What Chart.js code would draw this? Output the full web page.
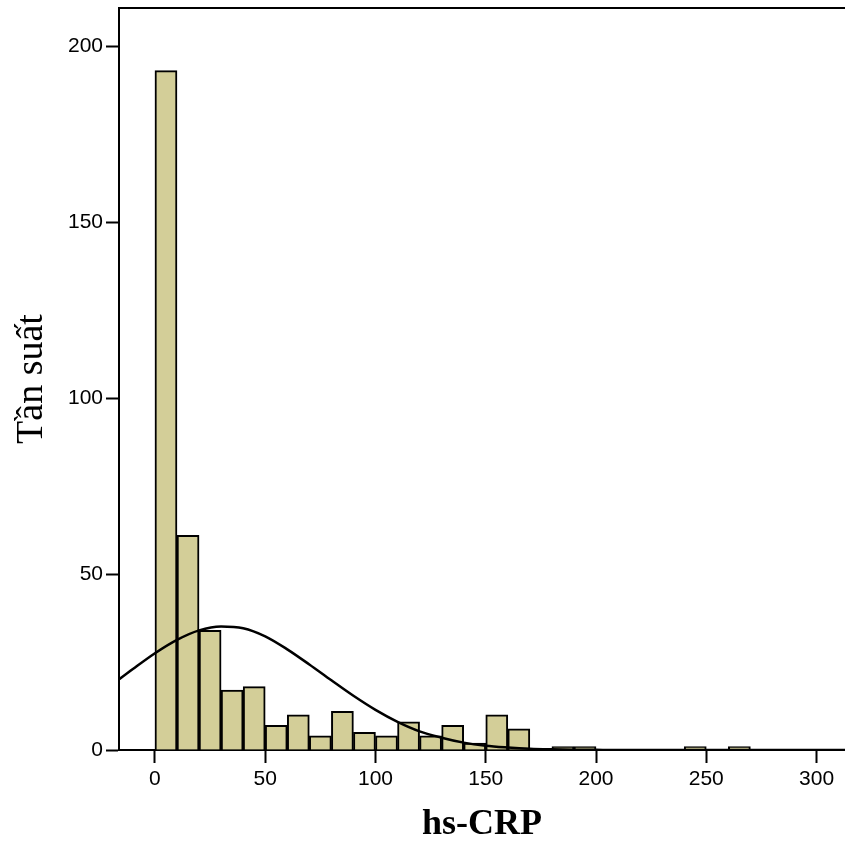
<!DOCTYPE html>
<html>
<head>
<meta charset="utf-8">
<script src="https://cdn.jsdelivr.net/npm/chart.js@4/dist/chart.umd.min.js"></script>
<style>
  body { margin: 0; background: #fff; }
  canvas { display: block; }
</style>
</head>
<body>
<canvas id="chart" width="845" height="843"></canvas>
<script>
// histogram bins (lower edge, width 10) and their counts
const binStarts = [0, 10, 20, 30, 40, 50, 60, 70, 80, 90, 100, 110, 120, 130,
  140, 150, 160, 170, 180, 190, 200, 210, 220, 230, 240, 250, 260];
const counts = [193, 61, 34, 17, 18, 7, 10, 4, 11, 5, 4, 8, 4, 7,
  2, 10, 6, 0, 1, 1, 0, 0, 0, 0, 1, 0, 1];

// normal curve
const curveX = [-20, -10, 0, 10, 20, 30, 40, 50, 60, 70, 80, 90, 100, 110,
  120, 130, 140, 150, 160, 170, 180, 190, 200, 220, 260, 320];
const curveY = [18.3, 23.0, 27.5, 31.3, 34.0, 35.1, 34.6, 32.3, 28.6, 24.3, 19.8,
  15.4, 11.4, 8.0, 5.3, 3.5, 2.1, 1.2, 0.7, 0.35, 0.18, 0.08, 0.04, 0, 0, 0];

const xTicks = [0, 50, 100, 150, 200, 250, 300];
const yTicks = [0, 50, 100, 150, 200];

const barData = binStarts.map((s, i) => ({ x: s + 5, y: counts[i] > 0 ? counts[i] : null }));
const lineData = curveX.map((x, i) => ({ x: x, y: curveY[i] }));

// top frame line
const topLine = {
  id: "topLine",
  afterDraw(chart) {
    const { ctx, chartArea } = chart;
    ctx.save();
    ctx.strokeStyle = "#000";
    ctx.lineWidth = 2;
    ctx.beginPath();
    ctx.moveTo(chartArea.left - 1, chartArea.top);
    ctx.lineTo(chartArea.right, chartArea.top);
    ctx.stroke();
    ctx.restore();
  }
};

new Chart(document.getElementById("chart"), {
  type: "bar",
  data: {
    datasets: [
      {
        type: "line",
        data: lineData,
        borderColor: "#000",
        borderWidth: 2.5,
        pointRadius: 0,
        cubicInterpolationMode: "monotone",
        fill: false,
        order: 0
      },
      {
        type: "bar",
        data: barData,
        backgroundColor: "rgb(211,206,152)",
        borderColor: "#000",
        borderWidth: 2,
        barPercentage: 1,
        categoryPercentage: 1,
        order: 1
      }
    ]
  },
  options: {
    responsive: false,
    animation: false,
    layout: { padding: { top: 8, right: 0, left: 0, bottom: 0 } },
    plugins: { legend: { display: false }, tooltip: { enabled: false } },
    scales: {
      x: {
        type: "linear",
        min: -16.3,
        max: 312.9,
        offset: false,
        afterFit: (scale) => { scale.height = 93; scale.paddingLeft = 0; scale.paddingRight = 0; },
        afterBuildTicks: (scale) => { scale.ticks = xTicks.map(v => ({ value: v })); },
        grid: { offset: false, drawOnChartArea: false, drawTicks: true, tickLength: 13, tickWidth: 2, tickColor: "#000" },
        border: { display: true, color: "#000", width: 2 },
        ticks: {
          color: "#000",
          padding: 4,
          maxRotation: 0,
          font: { family: "Liberation Sans, Arial, sans-serif", size: 21 }
        },
        title: {
          display: true,
          text: "hs-CRP",
          color: "#000",
          padding: { top: 0, bottom: 0 },
          font: { family: "Liberation Serif, Times New Roman, serif", size: 36, weight: "bold", lineHeight: 1 }
        }
      },
      y: {
        min: 0,
        max: 210.8,
        afterFit: (scale) => { scale.width = 119; scale.paddingTop = 0; scale.paddingBottom = 0; },
        afterBuildTicks: (scale) => { scale.ticks = yTicks.map(v => ({ value: v })); },
        grid: { drawOnChartArea: false, drawTicks: true, tickLength: 13, tickWidth: 2, tickColor: "#000" },
        border: { display: true, color: "#000", width: 2 },
        ticks: {
          color: "#000",
          padding: 3,
          font: { family: "Liberation Sans, Arial, sans-serif", size: 21 }
        },
        title: {
          display: true,
          text: "Tần suất",
          color: "#000",
          padding: { top: 13, bottom: 0 },
          font: { family: "Liberation Serif, Times New Roman, serif", size: 38, lineHeight: 1 }
        }
      }
    }
  },
  plugins: [topLine]
});
</script>
</body>
</html>
